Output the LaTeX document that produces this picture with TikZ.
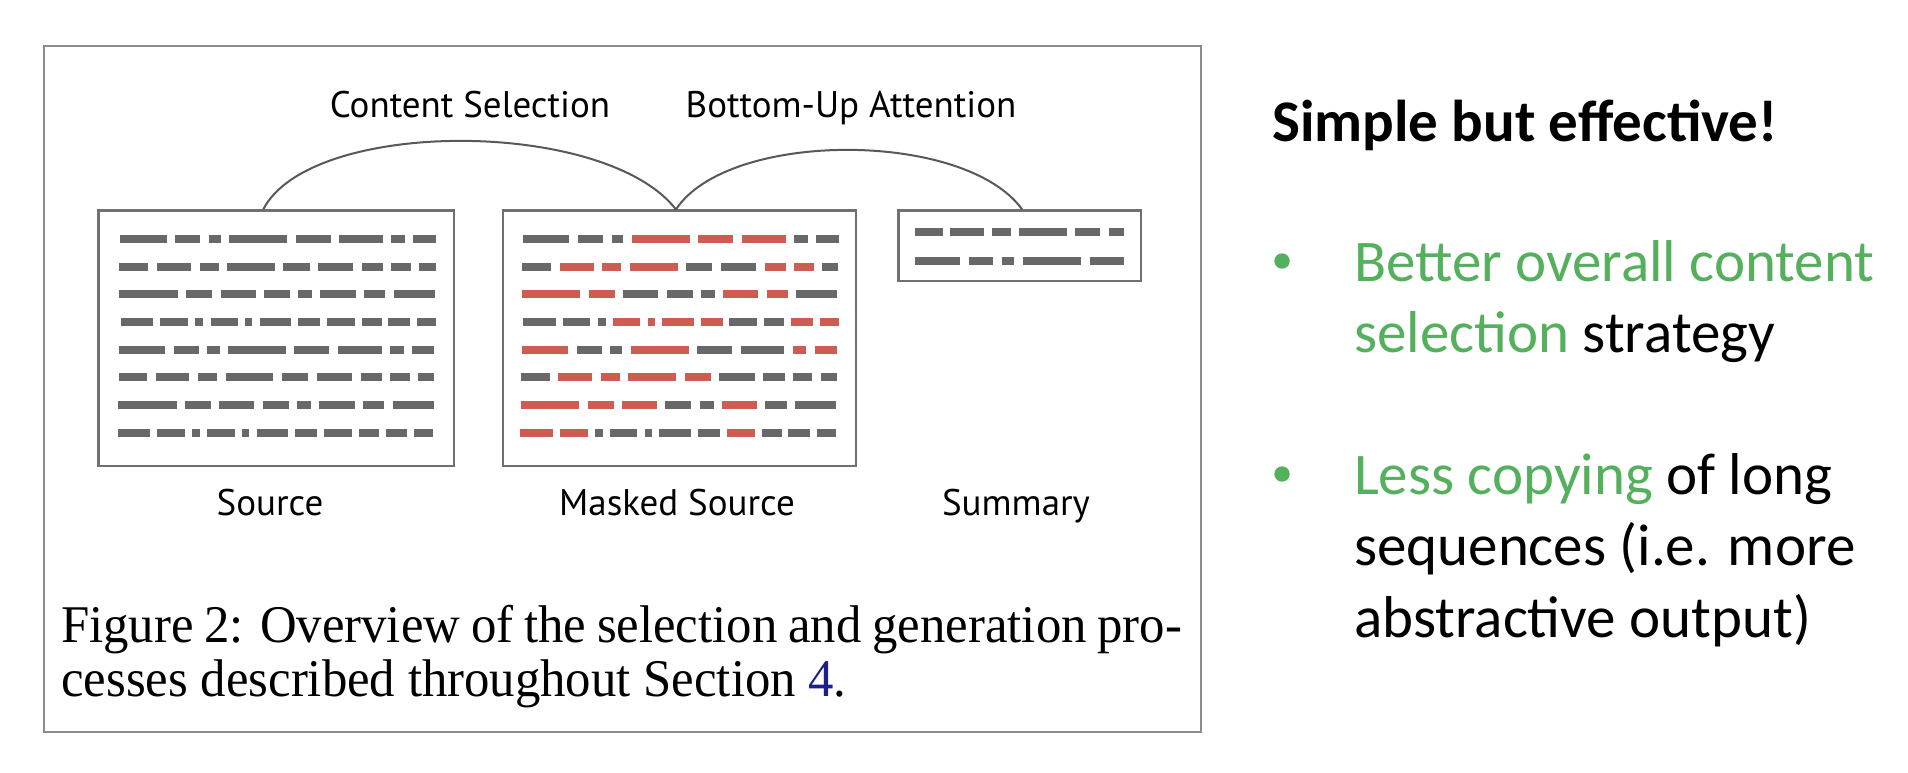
\documentclass[tikz,border=0pt]{standalone}
\usepackage{fontspec}
\setmainfont{Liberation Serif}
\newfontfamily\labfont{PT Sans}
\newfontfamily\slidefont{Carlito}
\definecolor{dg}{RGB}{104,104,104}
\definecolor{dr}{RGB}{205,92,82}
\definecolor{boxgray}{RGB}{112,112,112}
\definecolor{framegray}{RGB}{140,140,140}
\definecolor{arcgray}{RGB}{88,88,88}
\definecolor{slidegreen}{RGB}{84,176,92}
\definecolor{linkblue}{RGB}{30,30,140}
\newcommand\dashrow[2]{\foreach \a/\b/\c in {#2}{%
  \draw[dashseg,dg] (\a,#1) -- (\b,#1);
  \draw[dashseg,\c] (\a+402.7,#1) -- (\b+402.7,#1);}}
\newcommand\sumrow[2]{\foreach \a/\b in {#2}{\draw[dashseg,dg] (\a,#1) -- (\b,#1);}}
\begin{document}
\begin{tikzpicture}[x=1pt,y=-1pt,
  box/.style={draw=boxgray,line width=2.5pt,fill=white,inner sep=0pt},
  dashseg/.style={line width=8pt},
  arcline/.style={draw=arcgray,line width=2pt},
  lab/.style={anchor=base,inner sep=0pt,font=\labfont\fontsize{37}{44}\selectfont},
  captext/.style={anchor=base west,inner sep=0pt,font=\fontsize{53}{53}\selectfont},
  slide/.style={anchor=base west,inner sep=0pt,font=\slidefont\fontsize{59}{72}\selectfont},
  bullet/.style={circle,fill=slidegreen,minimum size=15.4pt,inner sep=0pt}]
\useasboundingbox (0,0) rectangle (1908,772);
\fill[white] (0,0) rectangle (1908,772);
% outer frame
\node[draw=framegray,line width=2.5pt,minimum width=1157pt,minimum height=686pt,inner sep=0pt] (frame) at (622.5,389) {};
% boxes
\node[box,minimum width=355.5pt,minimum height=255.3pt] (src) at (276.25,338.35) {};
\node[box,minimum width=353pt,minimum height=255.3pt] (msk) at (679.5,338.35) {};
\node[box,minimum width=242.7pt,minimum height=70.3pt] (sum) at (1019.65,245.85) {};
% arcs
\coordinate (a1) at ([xshift=-13pt]src.north);
\coordinate (a2) at ([xshift=-3.5pt]msk.north);
\coordinate (a3) at ([xshift=2.5pt]sum.north);
\draw[arcline] (a1) .. controls (310,118) and (605,118) .. (a2);
\draw[arcline] (a2) .. controls (728,130) and (965,130) .. (a3);
% dashes: source (grey) and masked source (coloured)
\dashrow{239}{120.0/166.7/dg, 175.3/200.0/dg, 209.0/220.7/dg, 229.3/287.0/dr, 295.7/330.7/dr, 339.3/383.0/dr, 391.3/405.0/dg, 413.3/436.0/dg}
\dashrow{266.7}{119.3/148.3/dg, 157.0/191.0/dr, 199.7/218.7/dr, 227.0/275.0/dr, 283.3/309.7/dg, 318.0/353.3/dg, 362.0/383.3/dr, 391.3/411.0/dr, 419.3/435.7/dg}
\dashrow{294.3}{119.3/177.7/dr, 186.0/212.3/dr, 220.7/255.7/dg, 264.0/290.0/dg, 298.0/312.3/dg, 320.3/355.7/dr, 364.0/385.3/dr, 393.7/434.7/dg}
\dashrow{322}{120.7/153.0/dg, 160.3/187.7/dg, 195.3/203.0/dg, 210.7/237.7/dr, 245.3/252.3/dr, 259.7/291.0/dr, 298.3/320.0/dr, 326.7/354.7/dg, 361.7/381.7/dg, 388.3/410.3/dr, 417.0/436.0/dr}
\dashrow{349.7}{119.3/165.3/dr, 174.3/199.0/dg, 207.3/219.7/dg, 228.3/286.0/dr, 294.3/329.3/dg, 338.0/381.7/dg, 390.0/403.7/dr, 412.0/434.3/dr}
\dashrow{377.3}{118.7/147.0/dg, 155.7/189.3/dr, 198.3/217.0/dr, 225.7/273.3/dr, 282.0/308.3/dr, 316.7/352.0/dg, 360.7/382.0/dg, 390.0/409.7/dg, 418.0/434.0/dg}
\dashrow{405}{118.0/176.7/dr, 185.0/211.0/dr, 219.3/254.3/dr, 262.7/288.7/dg, 297.0/311.0/dg, 319.3/354.7/dr, 362.7/384.3/dg, 392.7/433.7/dg}
\dashrow{432.7}{117.7/150.3/dr, 157.3/185.0/dr, 192.0/200.3/dg, 207.3/234.7/dg, 242.3/249.3/dg, 256.7/288.0/dg, 295.0/317.0/dg, 324.0/352.0/dr, 359.0/379.0/dg, 385.7/407.3/dg, 414.0/433.3/dg}
% summary dashes
\sumrow{232.3}{915/943.3, 950.3/984, 992.3/1011, 1019.3/1066.7, 1074.7/1100.3, 1108.7/1124.3}
\sumrow{261.3}{915/960, 969/993.3, 1002.3/1014.3, 1023/1081, 1089.7/1124.3}
% labels
\node[lab] (cs) at (470,117) {Content Selection};
\node[lab] (bua) at (851,117) {Bottom-Up Attention};
\node[lab] (srcl) at (270,515) {Source};
\node[lab] (mskl) at (677,515) {Masked Source};
\node[lab] (suml) at (1016,515) {Summary};
% caption
\node[captext] (cap1) at (61,642) {\scalebox{0.958}[1]{\makebox[1170pt][s]{Figure 2: Overview of the selection and generation pro-}}};
\node[captext] (cap2) at (61,696) {\scalebox{0.958}[1]{cesses described throughout Section \textcolor{linkblue}{4}.}};
% right-hand text
\node[slide,font=\slidefont\bfseries\fontsize{59}{72}\selectfont] (head) at (1272,141) {Simple but effective!};
\node[bullet] (b1) at (1282,261) {};
\node[bullet] (b2) at (1282,474) {};
\node[slide] (l1) at (1354,281) {\textcolor{slidegreen}{Better overall content}};
\node[slide] (l2) at (1354,352.7) {\textcolor{slidegreen}{selection} strategy};
\node[slide] (l3) at (1354,494.3) {\textcolor{slidegreen}{Less copying} of long};
\node[slide] (l4) at (1354,565.7) {sequences (i.e. more};
\node[slide] (l5) at (1354,637.7) {abstractive output)};
\end{tikzpicture}
\end{document}
